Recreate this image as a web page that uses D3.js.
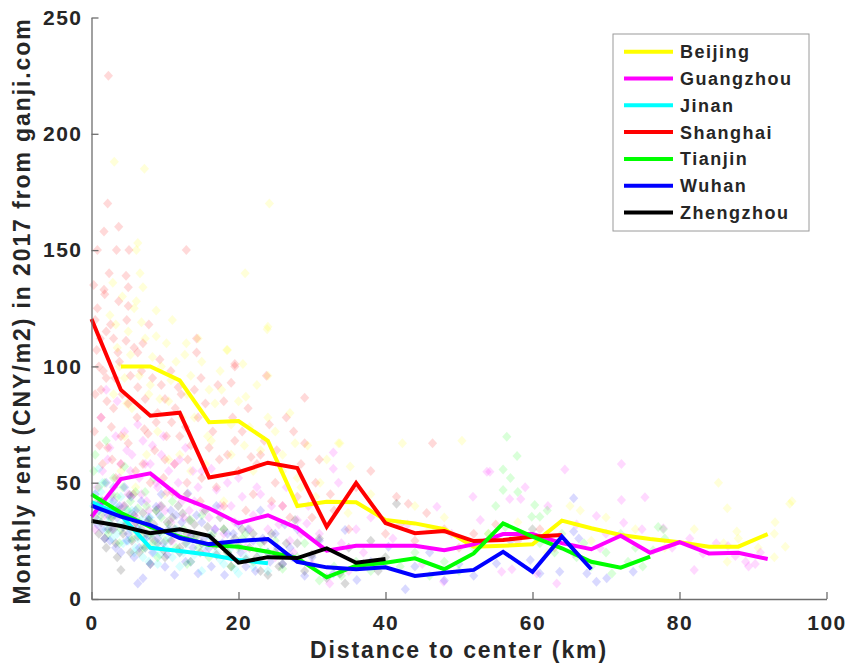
<!DOCTYPE html>
<html>
<head>
<meta charset="utf-8">
<script src="https://cdn.jsdelivr.net/npm/d3@7"></script>
<style>
  html, body { margin: 0; padding: 0; background: #fff; }
  svg text { font-family: "Liberation Sans", Arial, Helvetica, sans-serif; font-weight: bold; fill: #262626; }
</style>
</head>
<body>
<svg id="chart" width="846" height="668"></svg>
<script>
// Cities, in legend / drawing order
const cities = ["Beijing", "Guangzhou", "Jinan", "Shanghai", "Tianjin", "Wuhan", "Zhengzhou"];
const cityColors = ["#ffff00", "#ff00ff", "#00ffff", "#ff0000", "#00ff00", "#0000ff", "#000000"];

// Axis ticks
const xTicks = [0, 20, 40, 60, 80, 100];
const yTicks = [0, 50, 100, 150, 200, 250];

// Binned mean rent (CNY/m2) by distance ring (km), one series per city
const beijingDist = [4, 8, 12, 16, 20, 24, 28, 32, 36, 40, 44, 48, 52, 56, 60, 64, 68, 72, 76, 80, 84, 88, 92];
const beijingMean = [100, 100, 94, 76, 76.5, 68, 40, 41.8, 41.6, 34, 32.5, 30, 22.5, 22.9, 23.5, 33.7, 30.4, 27.5, 25.8, 24.4, 22.5, 22.5, 27.9];
const guangzhouDist = [0, 4, 8, 12, 16, 20, 24, 28, 32, 36, 40, 44, 48, 52, 56, 60, 64, 68, 72, 76, 80, 84, 88, 92];
const guangzhouMean = [35.4, 51.6, 54, 44, 39, 32.6, 36, 30.5, 20.8, 22.9, 22.9, 22.9, 21, 23.5, 27.9, 27.9, 24, 21.4, 27.2, 19.9, 24.4, 19.6, 19.9, 17.2];
const jinanDist = [0, 4, 8, 12, 16, 20, 24];
const jinanMean = [41.7, 36, 22, 20.6, 19, 16.8, 15.4];
const shanghaiDist = [0, 4, 8, 12, 16, 20, 24, 28, 32, 36, 40, 44, 48, 52, 56, 60, 64];
const shanghaiMean = [120.4, 89.9, 78.8, 80.1, 52.2, 54.5, 58.6, 56.3, 31, 49.9, 32.6, 28.3, 29.2, 24.9, 25.4, 26.8, 27.5];
const tianjinDist = [0, 4, 8, 12, 16, 20, 24, 28, 32, 36, 40, 44, 48, 52, 56, 60, 64, 68, 72, 76];
const tianjinMean = [45, 37.1, 31, 26.8, 23.2, 22.5, 20.3, 17.6, 9.3, 14.3, 15.6, 17.5, 12.8, 19.6, 32.5, 26.8, 21.8, 16, 13.5, 18.2];
const wuhanDist = [0, 4, 8, 12, 16, 20, 24, 28, 32, 36, 40, 44, 48, 52, 56, 60, 64, 68];
const wuhanMean = [40.1, 35.4, 31.8, 26.2, 23.6, 24.9, 25.8, 16, 13.6, 12.8, 13.6, 9.9, 11.3, 12.5, 20.3, 11.7, 26.8, 12.8];
const zhengzhouDist = [0, 4, 8, 12, 16, 20, 24, 28, 32, 36, 40];
const zhengzhouMean = [33.5, 31.4, 28.3, 30, 27.2, 15.6, 18, 17.6, 21.8, 15.6, 17.2];

// Individual listings: [distance km, rent CNY/m2]
const beijingPts = [[3.1,188],[7.2,185],[24.2,170],[6.3,153],[6.1,150],[6.6,140],[20.9,140],[2.9,136],[7,134],
  [2.5,122],[6.1,128],[6.8,119],[8.8,113],[12.9,110],[18.5,107],[12.7,105],[24,117],[23.9,116],[17.7,90],[21,87],
  [16.3,68],[24,78],[24,96],[20.8,66],[18.4,107],[20.6,101],[16,90],[3.5,108],[4.5,95],[5,115],[3,88],[5.5,82],
  [8,92],[9.5,100],[10.5,85],[11,120],[13.5,96],[14,78],[15,102],[9,72],[12,62],[15.5,58],[19,75],[22,55],[26,62],
  [27,80],[28,52],[29.4,66],[33.6,67],[27.7,67],[33.8,67],[42.3,67],[35.2,57],[31.1,50],[32,60],[34.9,37],[44,40],
  [38,45],[46,30],[50.4,68],[48,35],[54,28],[58,33],[62,20],[65.1,40],[66.5,38],[68,25],[70,35],[74,30],[78,22],
  [82,30],[85.3,50],[86.5,39],[95,41],[95.3,42],[93,33],[87.8,29],[92.9,28],[94.4,22.5],[92.9,18],[90.7,22],
  [86.5,16],[86,24],[88,26],[6,48],[10,45],[4,55],[18,42],[13,50],
  [3.3,118],[3.8,100],[4.2,130],[4.8,84],[5.3,105],[5.8,125],[6.5,96],[7.3,112],[7.8,88],[8.3,104],[8.8,124],
  [9.3,86],[10.2,110],[10.8,94],[11.5,102],[12.3,78],[13,88],[14.5,112],[15.8,70],[16.8,84],[17.5,98],[19,62],
  [20,85],[21.5,74],[22.5,92],[23,64],[25,72],[26,55],[28.5,48],[30.5,44],[4.5,70],[7.5,62],[10.5,60],[13.5,55]];
const guangzhouPts = [[0.5,30],[1,42],[1.5,55],[2,90],[1.3,78],[3.5,85],[2.5,65],[3,48],[3.5,38],[4,58],[4.5,72],
  [5,45],[5.5,62],[6,35],[6.5,52],[7,68],[7.5,42],[8,58],[8.5,30],[9,48],[9.5,62],[10,38],[10.5,55],[11,25],
  [11.5,45],[12,60],[12.5,35],[13,50],[13.5,28],[14,42],[15,55],[15.5,20],[16,35],[17,47],[18,28],[19,40],[20,52],
  [21,22],[22,36],[23,45],[24,30],[25,18],[26,40],[27,25],[28,34],[29.3,32.5],[30,15],[31,28],[32.9,63],[32.9,56],
  [33.6,50],[34,24],[35,12],[36,30],[37,20],[38,35],[40,18],[41,26],[43,32],[45,15],[47,39.7],[47.9,7.4],[32.4,6.7],
  [49,28],[51.9,44],[53.8,54.7],[52.9,34],[54.2,54.7],[55.8,11.7],[56.9,43],[57.2,12.8],[58.4,43],[59,48],[60,30],
  [60.6,11],[62.1,40],[63.3,6.7],[64.4,55.7],[65.6,19.6],[66,32],[68.7,35.7],[69.2,21.8],[70,28],[72.1,58],
  [72.4,32.8],[72.1,42.6],[74.9,30],[75.3,43.7],[77.8,30.4],[79,22],[81.4,26],[82,12.5],[83.2,19.6],[85,24],
  [86.6,22.8],[87.6,18.5],[89,16],[89.4,14],[90.3,15],[91,20],
  [0.8,48],[1.8,36],[2.2,60],[2.8,44],[3.3,70],[3.8,52],[4.3,40],[4.8,64],[5.3,55],[5.8,32],[6.3,75],[6.8,45],
  [7.3,58],[7.8,38],[8.3,66],[8.8,50],[9.3,40],[9.8,70],[10.3,46],[10.8,33],[11.3,58],[11.8,50],[12.3,42],
  [12.8,65],[13.3,38],[13.8,55],[14.5,48],[15.2,38],[16.3,56],[16.8,30],[17.5,40],[18.5,50],[19.5,33],[20.5,44],
  [21.5,30],[22.5,48],[23.5,25],[24.5,40],[25.5,32],[26.5,48],[27.5,20],[28.5,28],[29.5,40]];
const jinanPts = [[0.5,45],[1,38],[1.5,50],[2,30],[2.5,42],[3,36],[3.5,28],[4,44],[4.5,33],[5,25],[5.5,38],[6,22],
  [6.5,30],[7,18],[7.5,26],[8,35],[8.5,20],[9,15],[9.5,28],[10,22],[11,18],[11.5,30],[12,14],[13,24],[14,19],
  [15,12],[16,27],[17,20],[18,15],[19,22],[20,11],[21,18],[22,14],[23,20],[24,12],[1,56],[3,48],
  [0.3,40],[0.8,34],[1.3,46],[1.8,38],[2.3,33],[2.8,26],[3.3,40],[3.8,32],[4.3,24],[4.8,38],[5.3,30],[5.8,20],
  [6.3,26],[6.8,34],[7.3,22],[7.8,16],[8.3,28],[8.8,24],[9.3,19],[10.5,26],[12.5,20],[13.5,16],[15.5,22],
  [17.5,17],[19.5,13]];
const shanghaiPts = [[2.3,225],[2.2,170],[3.7,160],[1.7,158],[0.8,150],[3.4,150],[5.1,150],[12.9,150],[2.4,140],
  [4.7,139],[1.7,133],[5,134],[1.8,131],[3.7,128],[5,126],[2,115],[4.7,111],[7,110],[6.3,106],[0.7,107],[3.6,106],
  [9.3,103],[14.3,112],[14.3,106],[19.5,100],[14.9,95],[19,93],[11.8,91],[6.3,91],[1.3,90],[10,86],[5,84],[1.3,78],
  [2.7,74],[7.2,73],[10.9,76],[14.5,78],[24.2,75],[19.5,68],[17.4,60],[21.7,61],[5,67],[8.6,64],[2.2,65],[4,58],
  [11.3,58],[13.1,60],[7.7,71],[19.5,101],[23.8,96],[29,86.5],[27.5,72],[29,67],[46.4,67],[41.5,44],[43.1,41],
  [45.6,37],[0.5,120],[1,100],[2,95],[3,82],[4,70],[6,55],[8,50],[9,80],[10,60],[12,70],[13,45],[15,52],[16,65],
  [17,48],[18,85],[20,55],[22,45],[23,62],[25,50],[26,40],[28,44],[30,35],[31,60],[33,38],[35,30],[36,48],[38,55],
  [40,28],[42,32],[44,25],[48,30],[50,22],[52,28],[55,32],[58,25],[61,30],[63,22],[3,112],[1.5,58],[0.5,88],
  [0.3,135],[0.8,125],[1.2,112],[1.6,98],[2.1,85],[2.6,118],[3.2,95],[3.8,102],[4.2,88],[4.8,120],[5.3,96],
  [5.8,108],[6.2,78],[6.8,98],[7.3,86],[7.8,118],[8.3,95],[8.8,76],[9.5,92],[10.2,70],[10.8,98],[11.4,82],
  [12.2,88],[12.8,74],[13.5,66],[14,90],[15.5,84],[16.5,72],[17.2,92],[18.5,62],[19.2,78],[20.5,72],[21.3,82],
  [22.5,58],[23.5,68],[25.2,64],[26.5,78],[28.5,58],[30.5,50],[32.5,45],[0.4,72],[1.1,66],[2.8,60],[3.3,52],
  [5.7,45],[7,58],[9.8,52],[11,46],[14.8,42],[18,40],[21,38],[24.5,42],[27,35]];
const tianjinPts = [[0.3,55],[0.5,62],[1,48],[1.5,40],[2,68],[2.5,35],[3,52],[3.5,44],[4,30],[4.5,57],[5,38],
  [5.5,26],[6,46],[6.5,33],[7,22],[7.5,40],[8,28],[8.5,52],[9,18],[9.5,35],[10,25],[11,42],[12,20],[12.5,30],
  [13,15],[14,27],[15,36],[16,18],[17,24],[18,30],[19,14],[20,22],[21,28],[22,16],[24,20],[25,25],[26,13],[28,18],
  [29,24],[31,8],[33,14],[34,10],[36,16],[38,12],[40,18],[42,14],[44,20],[46,10],[48,16],[50,12],[52,22],[54,28],
  [55,40],[56,55.7],[56.5,69.8],[57,52],[57.9,61.5],[56,46.9],[58,46],[60.3,40.4],[59.9,35.4],[61,35.4],[56.3,31],
  [60,30],[61,24],[62,38],[63,20],[64,28],[66,18],[67,24],[68,14],[70,20],[70.8,11],[72,28],[73,16],[74,22],
  [75,14],[76.4,21],[77.1,31],[77.8,30],[78,26],
  [0.8,42],[1.3,36],[1.8,50],[2.3,28],[2.8,45],[3.3,38],[3.8,24],[4.3,48],[4.8,33],[5.3,42],[5.8,30],[6.3,39],
  [6.8,27],[7.3,46],[7.8,34],[8.3,24],[8.8,38],[9.3,29],[10.5,32],[11.5,22],[13.5,34],[14.5,22],[16.5,28],
  [18.5,20],[20.5,26],[23,24]];
const wuhanPts = [[0.5,45],[1,38],[1.5,30],[2,50],[2.5,25],[3,42],[3.5,35],[4,20],[4.5,48],[5.4,44],[5,28],[6,38],
  [6.3,6.7],[6.5,22],[7,8.9],[7.5,33],[8,15],[8.8,39.7],[9,26],[9.5,45],[10,13.9],[10.5,30],[11.3,10.3],[11.5,36],
  [12,20],[13.1,45.4],[13.5,27],[14.5,11],[15,33],[16,22],[17,40],[18.1,10.3],[18.5,28],[19,18],[20,32],[21,14],
  [22,25],[23,38],[24,20],[25,28],[26,15],[27,22],[28,30],[29,10],[30,18],[31,25],[32.9,11],[34.5,29.7],[36.1,8.2],
  [38,16],[40.4,22.5],[42.7,4.2],[44,14],[46,20],[48,8],[50,15],[52,10],[55.1,15.3],[57,25],[59.7,16.8],[61,11],
  [63.7,11.7],[65.6,43.3],[65.6,29],[66.3,26],[67.4,11],[68.7,7.4],[70.1,8.9],[73.7,11.7],
  [0.8,32],[1.3,42],[1.8,26],[2.3,36],[2.8,30],[3.3,22],[3.8,40],[4.3,31],[4.8,25],[5.3,36],[5.8,18],[6.3,30],
  [6.8,42],[7.3,26],[7.8,35],[8.3,20],[8.8,30],[9.3,36],[9.8,24],[10.3,19],[10.8,38],[11.8,28],[12.3,33],
  [12.8,16],[13.8,22],[14.3,36],[15.3,26],[16.3,14],[16.8,30],[17.8,24],[19.3,28],[20.3,20],[21.3,30],[22.3,12],
  [23.3,26],[24.3,16],[25.3,22],[26.3,32],[27.3,18]];
const zhengzhouPts = [[0.5,35],[1,28],[1.5,42],[2,22],[2.5,38],[3,30],[3.5,18],[4,12.5],[4.5,40],[5.2,44.7],[5.5,25],
  [6,33],[6.5,20],[7,37],[7.5,28],[8,15],[8.5,32],[9,24],[9.5,40],[10,18],[10.5,29],[11,35],[12,22],[12.4,36.8],
  [13,28],[13.5,16],[14,32],[15,24],[15.5,38],[16.3,26.8],[17,19],[18,30],[19,14],[20,23],[21,17],[22,28],[23,12],
  [24,10.3],[25,20],[26,15],[27.7,34],[28,24],[29,12],[30,19],[31,26],[32,9],[33.8,11],[34.5,6.7],[35,22],[37,15],
  [38,25],[39,12],[41.5,41],
  [0.8,40],[1.3,33],[1.8,26],[2.3,30],[2.8,35],[3.3,24],[3.8,38],[4.3,28],[4.8,32],[5.3,20],[5.8,36],[6.3,27],
  [6.8,30],[7.3,22],[7.8,34],[8.3,26],[8.8,38],[9.3,29],[9.8,21],[10.3,33],[10.8,25],[11.3,30],[11.8,40],
  [12.8,24],[13.3,34],[14.3,27],[14.8,20],[15.8,31],[16.8,23],[17.5,35],[18.5,20],[19.5,26],[20.5,30],[21.5,22],
  [22.5,18],[23.5,25],[24.5,28],[25.5,14],[26.5,24]];

const meanDist = [beijingDist, guangzhouDist, jinanDist, shanghaiDist, tianjinDist, wuhanDist, zhengzhouDist];
const meanRent = [beijingMean, guangzhouMean, jinanMean, shanghaiMean, tianjinMean, wuhanMean, zhengzhouMean];
const listings = [beijingPts, guangzhouPts, jinanPts, shanghaiPts, tianjinPts, wuhanPts, zhengzhouPts];

const svg = d3.select("#chart");
const x = d3.scaleLinear().domain([0, 100]).range([91.5, 826.5]);
const y = d3.scaleLinear().domain([0, 250]).range([599, 17.5]);

// Scatter of listings: translucent diamonds
const diamond = "M0,-5L4.6,0L0,5L-4.6,0Z";
const scatter = svg.append("g");
listings.forEach((pts, i) => {
  scatter.append("g")
    .selectAll("path")
    .data(pts)
    .join("path")
    .attr("d", diamond)
    .attr("transform", d => `translate(${x(d[0])},${y(d[1])})`)
    .attr("fill", cityColors[i])
    .attr("fill-opacity", 0.15);
});

// Mean rent lines
const line = d3.line().x(d => x(d[0])).y(d => y(d[1]));
const lines = svg.append("g");
cities.forEach((c, i) => {
  const pts = meanDist[i].map((d, j) => [d, meanRent[i][j]]);
  lines.append("path")
    .datum(pts)
    .attr("d", line)
    .attr("fill", "none")
    .attr("stroke", cityColors[i])
    .attr("stroke-width", 4);
});

// Axes (ticks pointing inward)
const axisColor = "#6e6e6e";
const xAxis = svg.append("g")
  .attr("transform", "translate(0,599)")
  .call(d3.axisBottom(x).tickValues(xTicks).tickSizeInner(-7).tickSizeOuter(0).tickPadding(16));
const yAxis = svg.append("g")
  .attr("transform", "translate(91.5,0)")
  .call(d3.axisLeft(y).tickValues(yTicks).tickSizeInner(-7).tickSizeOuter(0).tickPadding(9));
[xAxis, yAxis].forEach(g => {
  g.select(".domain").attr("stroke", axisColor).attr("stroke-width", 1.3);
  g.selectAll(".tick line").attr("stroke", axisColor).attr("stroke-width", 1.3);
  g.selectAll(".tick text")
    .attr("fill", "#262626")
    .style("font-size", "21px")
    .style("letter-spacing", "1.5px");
});

// Axis titles
svg.append("text")
  .attr("x", 459).attr("y", 658)
  .attr("text-anchor", "middle")
  .style("font-size", "23px")
  .style("letter-spacing", "1.9px")
  .text("Distance to center (km)");
svg.append("text")
  .attr("transform", "translate(29.5,311) rotate(-90)")
  .attr("text-anchor", "middle")
  .style("font-size", "23px")
  .style("letter-spacing", "1.9px")
  .text("Monthly rent (CNY/m2) in 2017 from ganji.com");

// Legend
const legend = svg.append("g");
legend.append("rect")
  .attr("x", 613).attr("y", 34).attr("width", 196).attr("height", 197)
  .attr("fill", "#fff").attr("stroke", "#9a9a9a").attr("stroke-width", 1);
cities.forEach((c, i) => {
  const cy = 51.7 + i * 26.8;
  legend.append("line")
    .attr("x1", 624).attr("x2", 673).attr("y1", cy).attr("y2", cy)
    .attr("stroke", cityColors[i]).attr("stroke-width", 4);
  legend.append("text")
    .attr("x", 680).attr("y", cy + 6.5)
    .style("font-size", "18px")
    .style("letter-spacing", "1.5px")
    .attr("fill", "#000")
    .text(c);
});
</script>
</body>
</html>
